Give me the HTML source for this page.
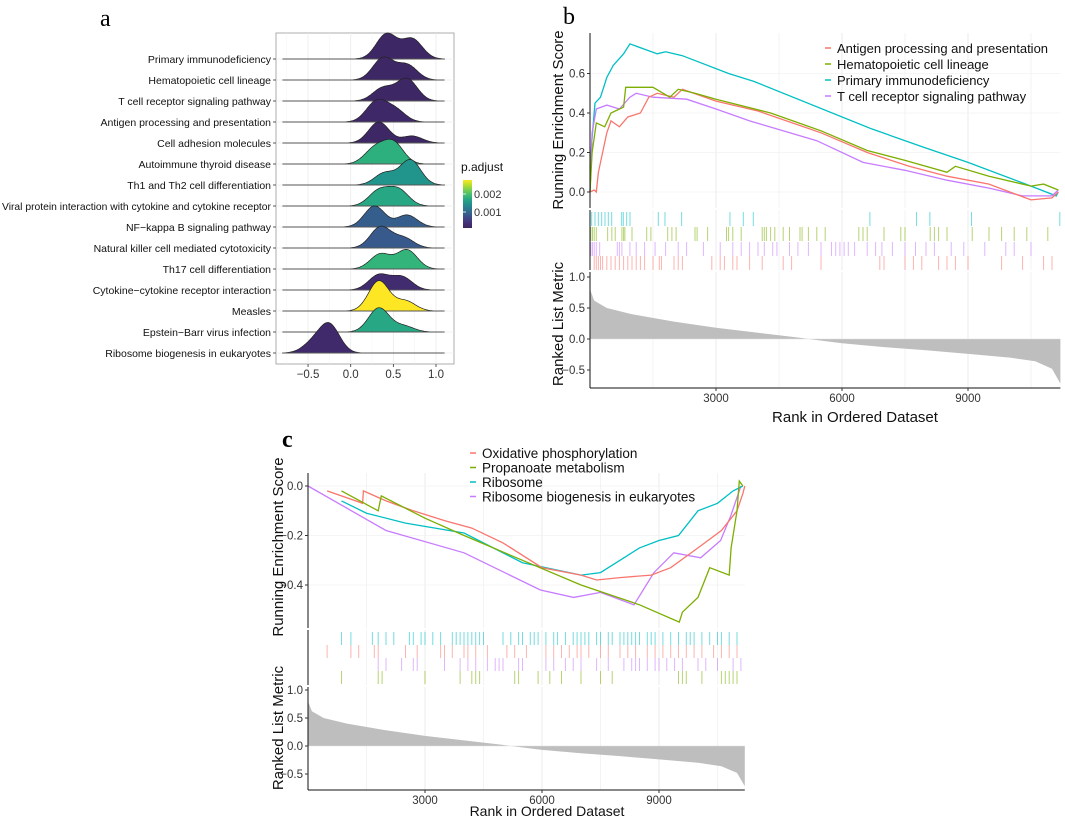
<!DOCTYPE html>
<html><head><meta charset="utf-8">
<style>
html,body{margin:0;padding:0;background:#fff;}
svg{display:block;font-family:"Liberation Sans",Arial,sans-serif;}
</style></head>
<body>
<svg id="fig" width="1065" height="818" viewBox="0 0 1065 818" xmlns="http://www.w3.org/2000/svg">
  <text x="100" y="26" font-family="Liberation Serif,serif" font-size="24">a</text>
  <text x="563" y="24" font-family="Liberation Serif,serif" font-size="24">b</text>
  <text x="282" y="447" font-family="Liberation Serif,serif" font-size="24" font-weight="bold">c</text>
  <g id="pa"></g>
  <g id="pb"></g>
  <g id="pc"></g>
</svg>
<script>
// ---------- Panel a data ----------
const ridgeLabels = ["Primary immunodeficiency","Hematopoietic cell lineage","T cell receptor signaling pathway","Antigen processing and presentation","Cell adhesion molecules","Autoimmune thyroid disease","Th1 and Th2 cell differentiation","Viral protein interaction with cytokine and cytokine receptor","NF\u2212kappa B signaling pathway","Natural killer cell mediated cytotoxicity","Th17 cell differentiation","Cytokine\u2212cytokine receptor interaction","Measles","Epstein\u2212Barr virus infection","Ribosome biogenesis in eukaryotes"];
const ridgeMu1 = [0.42,0.38,0.38,0.30,0.33,0.28,0.40,0.33,0.28,0.35,0.35,0.33,0.33,0.33,-0.25];
const ridgeH1  = [25,22,13,20,21,15,12,15,21,21,15,15,30,24,28];
const ridgeMu2 = [0.72,0.66,0.66,0.52,0.72,0.50,0.70,0.56,0.66,0.62,0.66,0.60,0.64,0.62,-0.45];
const ridgeH2  = [20,15,22,12,7,21,25,16,12,10,19,13,10,6,9];
const ridgePadj = [0.00018,0.00018,0.00018,0.00022,0.00018,0.00180,0.00150,0.00170,0.00090,0.00085,0.00185,0.00030,0.00278,0.00170,0.00025];
const ridgeTicks = [-0.5,0.0,0.5,1.0];
const cbTicks = [0.001,0.002];

// ---------- Panel b data ----------
const bTeal = [[0,0],[40,0.25],[120,0.45],[250,0.48],[400,0.58],[550,0.64],[800,0.70],[950,0.75],[1600,0.70],[1800,0.71],[2200,0.69],[3300,0.60],[3900,0.56],[6700,0.32],[7900,0.23],[9000,0.15],[10500,0.03],[11100,-0.02],[11150,0.0]];
const bGreen = [[0,0],[50,0.2],[150,0.35],[350,0.33],[500,0.40],[800,0.43],[850,0.53],[1500,0.53],[1900,0.48],[2100,0.52],[2500,0.50],[3000,0.47],[4300,0.40],[5500,0.31],[6600,0.21],[7500,0.16],[8500,0.10],[8700,0.13],[9500,0.08],[10500,0.03],[10800,0.04],[11150,0.01]];
const bRed = [[0,0],[100,0.01],[150,0.0],[200,0.1],[400,0.30],[500,0.36],[700,0.33],[900,0.38],[1200,0.40],[1400,0.48],[1600,0.50],[2000,0.48],[2200,0.52],[3000,0.46],[4000,0.41],[5500,0.30],[6600,0.20],[7600,0.13],[8500,0.08],[9500,0.04],[10500,-0.04],[11000,-0.03],[11150,0.0]];
const bPurple = [[0,0],[50,0.30],[150,0.42],[400,0.44],[700,0.42],[950,0.48],[1100,0.50],[1500,0.48],[2300,0.47],[3000,0.42],[3800,0.36],[5400,0.26],[6500,0.15],[7500,0.11],[8500,0.06],[9500,0.02],[10300,-0.02],[11000,-0.02],[11150,0.01]];
const bHitsTeal = [40,119,198,278,357,436,516,754,793,873,952,1626,1785,2182,3332,3650,3888,6664,7775,8092,9084,11186];
const bHitsGreen = [20,60,100,150,420,520,600,760,800,830,1000,1350,1450,1850,1950,2050,2500,2550,2800,3250,3300,3400,3600,4100,4150,4200,4300,4400,4600,4750,5000,5050,5200,5400,5600,6400,6500,6600,7000,7400,7500,8100,8200,8300,8500,9100,9500,9800,10100,10400,10900];
const bHitsPurple = [20,60,100,150,230,650,700,760,950,1100,1300,1550,1800,2100,2300,2700,3100,3400,3600,3800,4000,4150,4350,4450,4750,4950,5200,5500,5750,5850,5950,6050,6150,6300,6600,6800,6950,7200,7500,7750,8000,8200,8600,8900,9400,9900,10100,10500];
const bHitsRed = [100,150,200,250,300,400,500,600,700,800,900,1000,1100,1200,1300,1500,1650,1700,2000,2100,2200,2900,3100,3200,3400,3500,3800,4100,4600,4800,5500,6900,7000,7500,7700,7900,8300,8500,8700,9000,9800,10300,10800,11000];
const metricCurve = [[0,0.80],[100,0.62],[400,0.50],[1000,0.40],[2000,0.28],[3000,0.18],[4000,0.10],[5000,0.02],[5200,0],[6000,-0.07],[7000,-0.13],[8000,-0.18],[9000,-0.24],[10000,-0.30],[10600,-0.36],[11000,-0.48],[11200,-0.72]];
const bLegend = ["Antigen processing and presentation","Hematopoietic cell lineage","Primary immunodeficiency","T cell receptor signaling pathway"];
const rankTicks = [3000,6000,9000];
const bEsTicks = [0.0,0.2,0.4,0.6];
const metricTicks = [1.0,0.5,0.0,-0.5];

// ---------- Panel c data ----------
const cRed = [[490,-0.02],[1400,-0.07],[1420,-0.02],[2000,-0.06],[2700,-0.10],[3500,-0.14],[4200,-0.17],[5000,-0.23],[6000,-0.33],[7000,-0.36],[7400,-0.38],[8000,-0.37],[8800,-0.36],[9300,-0.33],[10000,-0.25],[10600,-0.18],[11000,-0.10],[11150,-0.03],[11200,0]];
const cGreen = [[860,-0.02],[1800,-0.10],[1880,-0.04],[3000,-0.13],[4000,-0.20],[5500,-0.30],[7000,-0.40],[8500,-0.48],[9520,-0.55],[9600,-0.51],[10000,-0.45],[10300,-0.33],[10800,-0.36],[10850,-0.25],[11000,-0.10],[11060,0.02],[11150,0]];
const cTeal = [[860,-0.06],[1500,-0.11],[2500,-0.15],[4000,-0.19],[5500,-0.31],[7000,-0.36],[7500,-0.35],[8000,-0.30],[8500,-0.25],[9000,-0.22],[9500,-0.20],[10000,-0.10],[10500,-0.07],[10900,-0.02],[11150,0]];
const cPurple = [[0,0],[2000,-0.18],[4000,-0.27],[5960,-0.42],[6810,-0.45],[7500,-0.43],[8360,-0.48],[8870,-0.35],[9380,-0.27],[10070,-0.29],[10580,-0.22],[10840,-0.12],[11100,0]];
const cHitsTeal = [860,1100,1650,1800,2000,2200,2600,2700,2900,3000,3200,3400,3700,3800,3900,4000,4100,4200,4300,4400,4500,5000,5200,5400,5500,5700,5800,5900,6100,6300,6400,6600,6800,6900,7000,7100,7200,7400,7500,7700,7800,8000,8100,8200,8300,8400,8500,8700,8800,8900,9100,9300,9500,9700,9800,9900,10100,10300,10500,10600,10800,11000];
const cHitsRed = [490,1100,1300,1700,1800,2500,2800,3400,3500,3700,4000,4100,4300,4600,5100,5300,5600,6100,6300,6500,6700,6900,7000,7200,7500,7700,8000,8200,8400,8700,8900,9100,9300,9500,9700,9900,10100,10400,10600,10800,11000];
const cHitsPurple = [1800,2000,2400,2700,2800,3500,3900,4100,4300,4600,4800,4900,5000,5400,5500,6100,6300,6600,6800,7000,7400,7700,8100,8300,8400,8500,8700,8900,9000,9200,9400,9600,10000,10200,10500,10900,11100];
const cHitsGreen = [860,1800,1900,3000,3900,4200,4300,4400,5300,5400,5900,6200,6500,7000,7500,7800,9500,9600,9700,10100,10600,10700,10800,10900,11000];
const cLegend = ["Oxidative phosphorylation","Propanoate metabolism","Ribosome","Ribosome biogenesis in eukaryotes"];
const cEsTicks = [0.0,-0.2,-0.4];

const NS = "http://www.w3.org/2000/svg";
function mk(parent, tag, attrs, text){
  const e = document.createElementNS(NS, tag);
  for (const k in attrs) e.setAttribute(k, attrs[k]);
  if (text !== undefined) e.textContent = text;
  parent.appendChild(e);
  return e;
}
const RED="#f8766d", GREEN="#7cae00", TEAL="#00bfc4", PURPLE="#c77cff";

const vir = [[60,36,94],[68,48,122],[62,74,137],[49,104,142],[38,130,142],[31,158,137],[53,183,121],[109,205,89],[180,222,44],[253,231,37]];
function viridis(t){
  t=Math.max(0,Math.min(1,t)); const p=t*(vir.length-1); const i=Math.min(Math.floor(p),vir.length-2); const f=p-i;
  const c=vir[i].map((v,k)=>Math.round(v+(vir[i+1][k]-v)*f));
  return `rgb(${c[0]},${c[1]},${c[2]})`;
}

// ===== Panel a =====
(function(){
  const g = document.getElementById('pa');
  const ax = v => 350.7 + 85.3*v;
  const rowY = i => 59 + 21*i;
  const pMin=0.00011, pMax=0.00278;
  const frame = mk(g,'rect',{x:276,y:33,width:178,height:331,fill:'#fff',stroke:'#999','stroke-width':0.8});
  
  
  [-0.75,-0.25,0.25,0.75].forEach(v=>{ const l=mk(g,'line',{x1:ax(v),x2:ax(v),y1:33,y2:364,stroke:'#f3f3f3','stroke-width':0.5});
     });
  ridgeTicks.forEach(v=>{ const l=mk(g,'line',{x1:ax(v),x2:ax(v),y1:33,y2:364,stroke:'#ebebeb','stroke-width':0.8});
     
    const tk=mk(g,'line',{x1:ax(v),x2:ax(v),y1:364,y2:367,stroke:'#333','stroke-width':0.8});
     
    const t=mk(g,'text',{x:ax(v),y:378,'font-size':11.5,'text-anchor':'middle',fill:'#333'},v.toFixed(1).replace('-','\u2212'));
     });
  ridgeLabels.forEach((lab,i)=>{ const l=mk(g,'line',{x1:276,x2:454,y1:rowY(i),y2:rowY(i),stroke:'#ebebeb','stroke-width':0.8});
     });
  ridgeLabels.forEach((lab,i)=>{
    const y0=rowY(i); let pts=[];
    const s=0.12;
    for(let v=-0.8; v<=1.1001; v+=0.01){
      const d=ridgeH1[i]*Math.exp(-((v-ridgeMu1[i])**2)/(2*s*s))+ridgeH2[i]*Math.exp(-((v-ridgeMu2[i])**2)/(2*s*s));
      pts.push([ax(v), y0-d]);
    }
    const dStr='M'+ax(-0.8)+','+y0+' '+pts.map(p=>'L'+p[0].toFixed(1)+','+p[1].toFixed(1)).join(' ')+' L'+ax(1.1)+','+y0+' Z';
    const col=viridis((ridgePadj[i]-pMin)/(pMax-pMin));
    const r=mk(g,'path',{d:dStr,fill:col,stroke:'#222','stroke-width':0.7});
     
    const bl=mk(g,'line',{x1:ax(-0.8),x2:ax(1.1),y1:y0,y2:y0,stroke:'#555','stroke-width':0.9});
     
    const tk=mk(g,'line',{x1:273,x2:276,y1:y0,y2:y0,stroke:'#333','stroke-width':0.8});
     
    const at={x:271,y:y0+4,'font-size':10.5,'text-anchor':'end',fill:'#111'};
    if(lab.length>50){ at.textLength=269; at.lengthAdjust='spacingAndGlyphs'; }
    const t=mk(g,'text',at,lab);
     
  });
  const defs=mk(g,'defs',{});
  const lg=mk(defs,'linearGradient',{id:'vg',x1:0,y1:1,x2:0,y2:0});
  for(let k=0;k<=10;k++){ mk(lg,'stop',{offset:(k/10),'stop-color':viridis(k/10)}); }
  const cbY = v => 212 - (v-0.001)*18000;
  const cb=mk(g,'rect',{x:463,y:cbY(pMax),width:9,height:cbY(pMin)-cbY(pMax),fill:'url(#vg)'});
   
  const ct=mk(g,'text',{x:461,y:171,'font-size':12,fill:'#111'},'p.adjust');
   
  cbTicks.forEach(v=>{ const t=mk(g,'text',{x:474,y:cbY(v)+4,'font-size':11,fill:'#333'},v.toFixed(3));
     
    const l=mk(g,'line',{x1:463,x2:466,y1:cbY(v),y2:cbY(v),stroke:'#fff','stroke-width':0.8});
     });
})();

// ===== GSEA panels =====
function gsea(gid, cfg){
  const g=document.getElementById(gid);
  const X = r => cfg.x0 + r*cfg.xs;
  const Y = e => cfg.es0 - e*cfg.esS;
  const M = m => cfg.m0 - m*cfg.mS;
  const xr = X(11200);
  for(let r=1500;r<=10500;r+=1500){
    [[cfg.esTop,cfg.esBot],[cfg.hTop,cfg.hBot],[cfg.mTop,cfg.mBot]].forEach(seg=>{
      const l=mk(g,'line',{x1:X(r),x2:X(r),y1:seg[0],y2:seg[1],stroke: (r%3000===0)?'#e6e6e6':'#f0f0f0','stroke-width':0.8});
       
    });
  }
  cfg.esTicks.forEach(v=>{ const l=mk(g,'line',{x1:cfg.x0,x2:xr,y1:Y(v),y2:Y(v),stroke:'#f2f2f2','stroke-width':0.8});
     });
  const mp='M'+X(0)+','+M(0)+' '+metricCurve.map(p=>'L'+X(p[0]).toFixed(1)+','+M(p[1]).toFixed(1)).join(' ')+' L'+X(11200)+','+M(0)+' Z';
  const ar=mk(g,'path',{d:mp,fill:'#bebebe',stroke:'none'});
   
  const zl=mk(g,'line',{x1:cfg.x0,x2:xr,y1:M(0),y2:M(0),stroke:'#e0e0e0','stroke-width':0.6});
   
  cfg.hits.forEach(h=>{
    h.data.forEach(r=>{ const l=mk(g,'line',{x1:X(r),x2:X(r),y1:h.y0,y2:h.y1,stroke:h.color,'stroke-width':1,'stroke-opacity':0.55});
       });
  });
  cfg.series.forEach(s=>{
    const d=s.data.map((p,i)=>(i?'L':'M')+X(p[0]).toFixed(1)+','+Y(p[1]).toFixed(1)).join(' ');
    const l=mk(g,'path',{d:d,fill:'none',stroke:s.color,'stroke-width':1.3});
     
  });
  [[cfg.esTop,cfg.esBot],[cfg.hTop,cfg.hBot],[cfg.mTop,cfg.mBot]].forEach(seg=>{
    const l=mk(g,'line',{x1:cfg.x0,x2:cfg.x0,y1:seg[0],y2:seg[1],stroke:'#111','stroke-width':1});
     });
  const bx=mk(g,'line',{x1:cfg.x0,x2:xr,y1:cfg.mBot,y2:cfg.mBot,stroke:'#111','stroke-width':1});
   
  cfg.esTicks.forEach(v=>{ const t=mk(g,'text',{x:cfg.x0-5,y:Y(v)+4,'font-size':cfg.tf,'text-anchor':'end',fill:'#333'},v.toFixed(1).replace('-','\u2212'));
     
    const k=mk(g,'line',{x1:cfg.x0-3,x2:cfg.x0,y1:Y(v),y2:Y(v),stroke:'#333'});
     });
  metricTicks.forEach(v=>{ const t=mk(g,'text',{x:cfg.x0-5,y:M(v)+4,'font-size':cfg.tf,'text-anchor':'end',fill:'#333'},v.toFixed(1).replace('-','\u2212'));
     
    const k=mk(g,'line',{x1:cfg.x0-3,x2:cfg.x0,y1:M(v),y2:M(v),stroke:'#333'});
     });
  rankTicks.forEach(v=>{ const t=mk(g,'text',{x:X(v),y:cfg.mBot+14,'font-size':cfg.tf,'text-anchor':'middle',fill:'#333'},String(v));
     
    const k=mk(g,'line',{x1:X(v),x2:X(v),y1:cfg.mBot,y2:cfg.mBot+3,stroke:'#333'});
     });
  const xt=mk(g,'text',{x:cfg.xtX,y:cfg.xtY,'font-size':cfg.xf,'text-anchor':'middle',fill:'#111'},'Rank in Ordered Dataset');
   
  const yt1=mk(g,'text',{x:0,y:0,'font-size':cfg.af,'text-anchor':'middle',fill:'#111',transform:`translate(${cfg.ytX},${cfg.yt1Y}) rotate(-90)`},'Running Enrichment Score');
   
  const yt2=mk(g,'text',{x:0,y:0,'font-size':cfg.af,'text-anchor':'middle',fill:'#111',transform:`translate(${cfg.ytX},${cfg.yt2Y}) rotate(-90)`},'Ranked List Metric');
   
  cfg.legend.forEach((lab,i)=>{
    const y=cfg.lgY+i*cfg.lgStep;
    const d=mk(g,'line',{x1:cfg.lgX,x2:cfg.lgX+6,y1:y,y2:y,stroke:cfg.lgColors[i],'stroke-width':1.5});
     
    const t=mk(g,'text',{x:cfg.lgX+12,y:y+5,'font-size':cfg.lf,fill:'#111'},lab);
     
  });
}

gsea('pb',{x0:590,xs:0.042,es0:192,esS:197.5,m0:339,mS:62,
  esTop:33,esBot:208,hTop:210,hBot:270,mTop:272,mBot:388,esTicks:bEsTicks,
  hits:[{name:'primary-immunodeficiency',data:bHitsTeal,color:TEAL,y0:212,y1:226},
        {name:'hematopoietic',data:bHitsGreen,color:GREEN,y0:227,y1:241},
        {name:'tcr-signaling',data:bHitsPurple,color:PURPLE,y0:242,y1:256},
        {name:'antigen-processing',data:bHitsRed,color:RED,y0:256,y1:270}],
  series:[{name:'primary-immunodeficiency',data:bTeal,color:TEAL},{name:'tcr-signaling',data:bPurple,color:PURPLE},
          {name:'antigen-processing',data:bRed,color:RED},{name:'hematopoietic',data:bGreen,color:GREEN}],
  tf:11.5,af:15,xf:15,xtX:855,xtY:422,ytX:563,yt1Y:120,yt2Y:324,
  legend:bLegend,lgColors:[RED,GREEN,TEAL,PURPLE],lgX:825,lgY:48,lgStep:16,lf:13});

gsea('pc',{x0:308,xs:0.039,es0:486,esS:247.5,m0:746,mS:56,
  esTop:473,esBot:628,hTop:630,hBot:685,mTop:687,mBot:790,esTicks:cEsTicks,
  hits:[{name:'ribosome',data:cHitsTeal,color:TEAL,y0:632,y1:645},
        {name:'oxidative-phosphorylation',data:cHitsRed,color:RED,y0:645,y1:658},
        {name:'ribosome-biogenesis',data:cHitsPurple,color:PURPLE,y0:658,y1:671},
        {name:'propanoate-metabolism',data:cHitsGreen,color:GREEN,y0:671,y1:684}],
  series:[{name:'ribosome-biogenesis',data:cPurple,color:PURPLE},{name:'ribosome',data:cTeal,color:TEAL},
          {name:'oxidative-phosphorylation',data:cRed,color:RED},{name:'propanoate-metabolism',data:cGreen,color:GREEN}],
  tf:11.5,af:15,xf:14,xtX:547,xtY:816,ytX:283,yt1Y:547,yt2Y:728,
  legend:cLegend,lgColors:[RED,GREEN,TEAL,PURPLE],lgX:470,lgY:453,lgStep:14.5,lf:13.5});
</script>
</body></html>
